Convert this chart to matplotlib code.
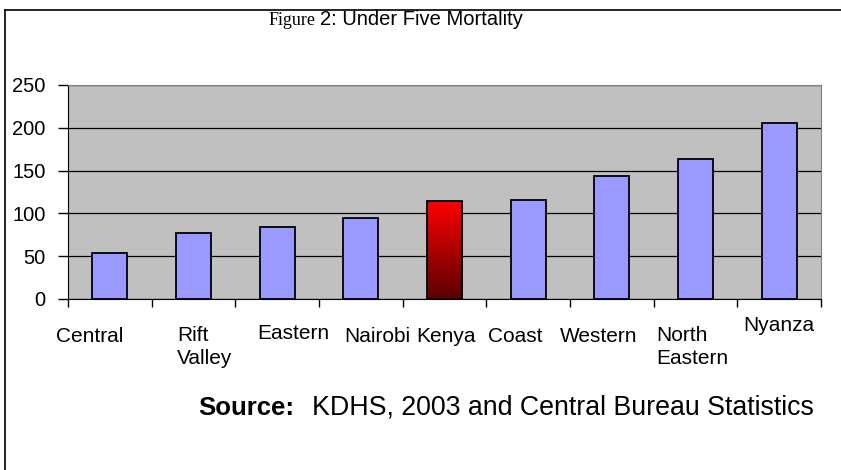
import numpy as np
import matplotlib.pyplot as plt
from matplotlib.lines import Line2D

# data
regions = ["Central", "Rift\nValley", "Eastern", "Nairobi", "Kenya",
           "Coast", "Western", "North\nEastern", "Nyanza"]
mortality = [54, 77, 84, 95, 115, 116, 144, 163, 206]
highlight = "Kenya"
y_ticks = [0, 50, 100, 150, 200, 250]

# label placement tweaks (offset from category centre, axes-fraction baseline)
label_dx = [-0.64, -0.20, -0.24, -0.20, -0.34, -0.48, -0.62, -0.47, -0.43]
label_y = [-0.201, -0.201, -0.187, -0.201, -0.201, -0.201, -0.201, -0.201, -0.150]

BAR_COLOR = "#9999FF"
PLOT_BG = "#C0C0C0"
W, H = 841, 470


def set_up_canvas():
    fig = plt.figure(figsize=(W / 100, H / 100), dpi=100)
    fig.patch.set_facecolor("white")
    ax = fig.add_axes([68 / W, 1 - 299 / H, (821 - 68) / W, (299 - 85) / H])
    ax.set_facecolor(PLOT_BG)

    # outer frame lines (top and left only)
    fig.add_artist(Line2D([5 / W, 1], [1 - 10 / H, 1 - 10 / H],
                          transform=fig.transFigure, color="black", lw=1.2))
    fig.add_artist(Line2D([5 / W, 5 / W], [0, 1 - 10 / H],
                          transform=fig.transFigure, color="black", lw=1.2))
    return fig, ax


def visualize():
    fig, ax = set_up_canvas()
    x = np.arange(len(regions))

    bars = ax.bar(x, mortality, width=0.42, color=BAR_COLOR,
                  edgecolor="black", linewidth=1.3, zorder=3)

    # gradient fill for the national figure
    k = regions.index(highlight)
    b = bars[k]
    b.set_facecolor("none")
    grad = np.linspace(0, 1, 256).reshape(-1, 1)
    cmap = plt.matplotlib.colors.LinearSegmentedColormap.from_list(
        "kred", ["#5a0000", "#ff0000"])
    im = ax.imshow(grad, cmap=cmap, origin="lower", aspect="auto",
                   extent=[b.get_x(), b.get_x() + b.get_width(), 0, b.get_height()],
                   zorder=2.5)
    im.set_clip_path(b)

    ax.set_xlim(-0.5, len(regions) - 0.5)
    ax.set_ylim(0, 250)

    # grid
    ax.set_yticks(y_ticks)
    ax.yaxis.grid(True, color="black", linewidth=0.9, zorder=1)
    ax.set_axisbelow(True)
    ax.tick_params(axis="y", direction="out", length=7, width=1,
                   labelsize=14.5, pad=9)
    ax.set_yticklabels([str(t) for t in y_ticks], family="Liberation Sans")

    # x ticks at category boundaries, labels drawn by hand
    ax.set_xticks(np.arange(len(regions) + 1) - 0.5)
    ax.set_xticklabels([])
    ax.tick_params(axis="x", direction="out", length=6, width=1)

    # baseline of the first line sits at label_y; shift multi-line labels down
    trans = ax.get_xaxis_transform()
    line_step = 21.5 / 214
    for i, name in enumerate(regions):
        extra = name.count("\n") * line_step
        ax.text(i + label_dx[i], label_y[i] - extra, name, transform=trans,
                ha="left", va="baseline", fontsize=15, family="Liberation Sans",
                linespacing=1.22)

    for side in ["top", "right"]:
        ax.spines[side].set_color("#808080")
    ax.spines["left"].set_color("black")
    ax.spines["bottom"].set_color("black")

    # title
    fig.text(316 / W, 1 - 25 / H, "Figure", ha="right", va="baseline",
             fontsize=13, family="Liberation Serif")
    fig.text(320 / W, 1 - 25 / H, "2: Under Five Mortality", ha="left",
             va="baseline", fontsize=14.5, family="Liberation Sans")

    # source note
    fig.text(198 / W, 1 - 415 / H, "Source:", ha="left", va="baseline",
             fontsize=18.5, fontweight="bold", family="Liberation Sans")
    fig.text(312 / W, 1 - 415 / H, "KDHS, 2003 and Central Bureau Statistics",
             ha="left", va="baseline", fontsize=19.3, family="Liberation Sans")

    fig.savefig("out.png", dpi=100)


if __name__ == "__main__":
    visualize()
